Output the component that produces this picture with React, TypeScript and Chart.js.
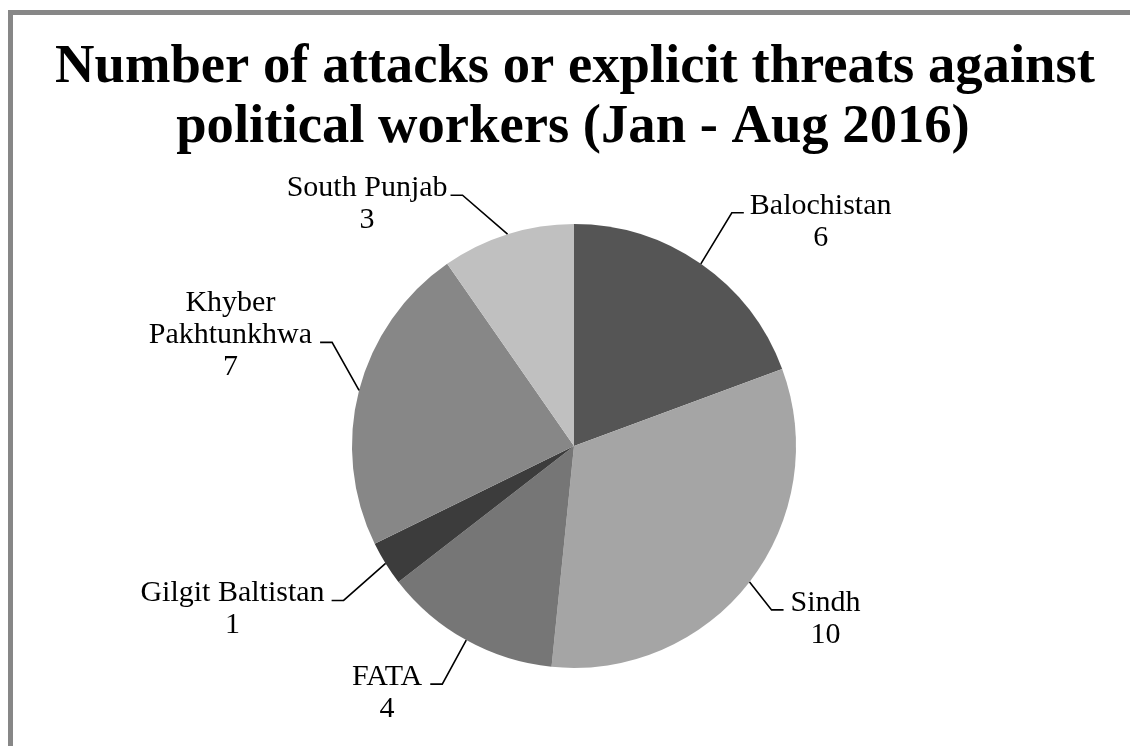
import React, { useEffect, useRef } from "react";
import { Chart, registerables } from "chart.js";

Chart.register(...registerables);

// ---- data ----
const categories = ["Balochistan", "Sindh", "FATA", "Gilgit Baltistan", "Khyber Pakhtunkhwa", "South Punjab"];
const labelLines = [["Balochistan"], ["Sindh"], ["FATA"], ["Gilgit Baltistan"], ["Khyber", "Pakhtunkhwa"], ["South Punjab"]];
const values = [6, 10, 4, 1, 7, 3];
const titleLines = ["Number of attacks or explicit threats against", "political workers (Jan - Aug 2016)"];

// ---- style ----
const sliceColors = ["#555555", "#a5a5a5", "#767676", "#3c3c3c", "#878787", "#c0c0c0"];
// leader elbow offset from arc midpoint, horizontal side, which text line the leader attaches to, text gap
const leaderStyle = [
  { dx: 31, dy: -51, side: 1, attach: 0, gap: 6 },
  { dx: 22, dy: 28, side: 1, attach: 0, gap: 7 },
  { dx: -24, dy: 44, side: -1, attach: 0, gap: 8 },
  { dx: -42, dy: 37, side: -1, attach: 0, gap: 7 },
  { dx: -27, dy: -48, side: -1, attach: 1, gap: 8 },
  { dx: -45, dy: -39, side: -1, attach: 0, gap: 3 },
];
const LABEL_FONT = "30px 'Liberation Serif', serif";
const TITLE_FAMILY = "'Liberation Serif', serif";
const LINE_H = 32;

const overlayPlugin = {
  id: "overlay",
  beforeDraw(chart: any) {
    const ctx = chart.ctx;
    ctx.save();
    ctx.fillStyle = "#ffffff";
    ctx.fillRect(0, 0, chart.width, chart.height);
    ctx.fillStyle = "#878787";
    ctx.fillRect(8, 10, chart.width - 8, 5);
    ctx.fillRect(8, 10, 5, chart.height - 10);
    ctx.restore();
  },
  afterDraw(chart: any) {
    const ctx = chart.ctx;
    ctx.save();
    // title
    ctx.fillStyle = "#000";
    ctx.textAlign = "center";
    ctx.textBaseline = "alphabetic";
    ctx.font = `bold 100px ${TITLE_FAMILY}`;
    const w100 = ctx.measureText(titleLines[0]).width;
    const size = (100 * 1040) / w100;
    ctx.font = `bold ${size}px ${TITLE_FAMILY}`;
    ctx.fillText(titleLines[0], 575, 82);
    ctx.fillText(titleLines[1], 573, 142);

    // labels
    const meta = chart.getDatasetMeta(0);
    ctx.font = LABEL_FONT;
    meta.data.forEach((arc: any, i: number) => {
      const p = arc.getProps(["x", "y", "startAngle", "endAngle", "outerRadius"], true);
      const mid = (p.startAngle + p.endAngle) / 2;
      const ax = p.x + Math.cos(mid) * p.outerRadius;
      const ay = p.y + Math.sin(mid) * p.outerRadius;
      const st = leaderStyle[i];
      const ex = ax + st.dx;
      const ey = ay + st.dy;
      const hx = ex + st.side * 12;
      ctx.strokeStyle = "#000";
      ctx.lineWidth = 1.6;
      ctx.beginPath();
      ctx.moveTo(ax, ay);
      ctx.lineTo(ex, ey);
      ctx.lineTo(hx, ey);
      ctx.stroke();

      const lines = [...labelLines[i], String(values[i])];
      let bw = 0;
      lines.forEach((l) => (bw = Math.max(bw, ctx.measureText(l).width)));
      const edge = hx + st.side * st.gap;
      const cx = edge + (st.side * bw) / 2;
      const base0 = ey + 1 - st.attach * LINE_H;
      ctx.fillStyle = "#000";
      ctx.textAlign = "center";
      lines.forEach((l, k) => ctx.fillText(l, cx, base0 + k * LINE_H));
    });
    ctx.restore();
  },
};

export default function App() {
  const ref = useRef<HTMLCanvasElement>(null);
  useEffect(() => {
    if (!ref.current) return;
    const chart = new Chart(ref.current, {
      type: "pie",
      data: {
        labels: categories,
        datasets: [{ data: values, backgroundColor: sliceColors, borderWidth: 0 }],
      },
      options: {
        responsive: false,
        animation: false,
        layout: { padding: { top: 224, bottom: 78, left: 352, right: 334 } },
        plugins: { legend: { display: false }, tooltip: { enabled: false }, title: { display: false } },
      },
      plugins: [overlayPlugin],
    });
    return () => chart.destroy();
  }, []);
  return (
    <div style={{ position: "fixed", left: 0, top: 0, width: 1130, height: 746, background: "#fff" }}>
      <canvas ref={ref} width={1130} height={746} style={{ display: "block" }} />
    </div>
  );
}
